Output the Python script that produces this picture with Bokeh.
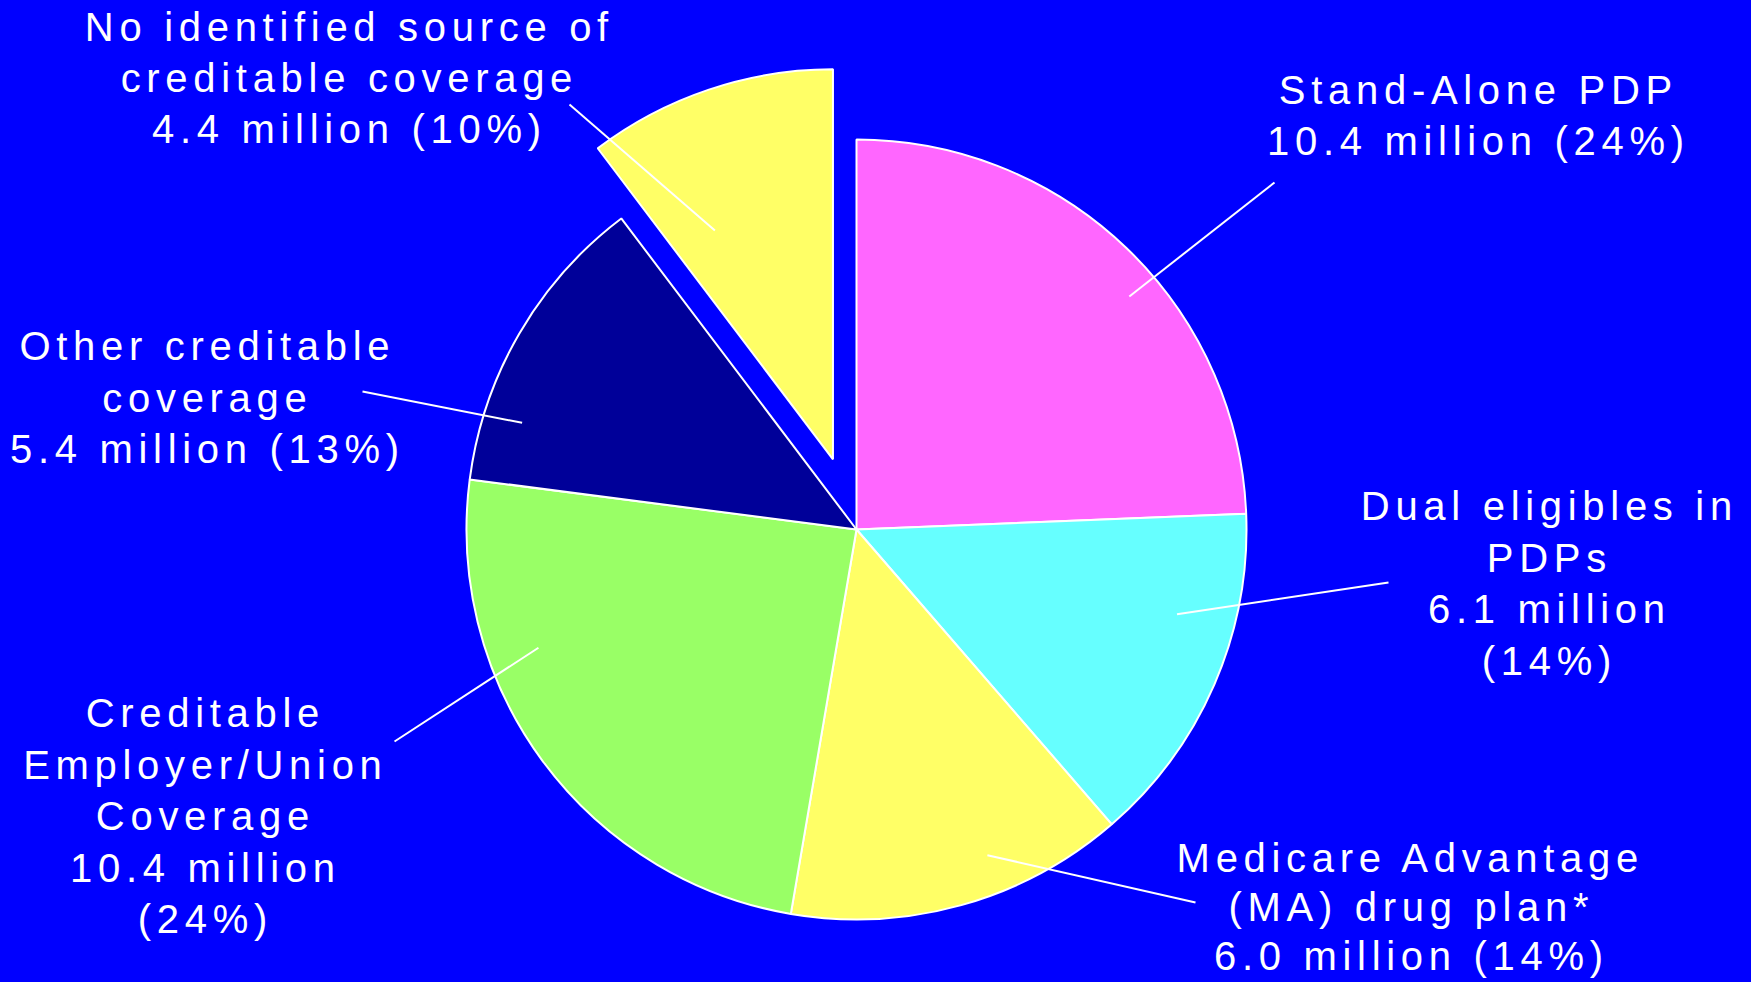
import math
from jinja2 import Template
from bokeh.plotting import figure
from bokeh.models import Range1d, ColumnDataSource
from bokeh.core.properties import value
from bokeh.embed import file_html
from bokeh.resources import INLINE
from bokeh.core.templates import FILE

# ---------------- data ----------------
categories = [
    "Stand-Alone PDP",
    "Dual eligibles in PDPs",
    "Medicare Advantage (MA) drug plan*",
    "Creditable Employer/Union Coverage",
    "Other creditable coverage",
    "No identified source of creditable coverage",
]
millions = [10.4, 6.1, 6.0, 10.4, 5.4, 4.4]
percents = [24, 14, 14, 24, 13, 10]
label_lines = [
    ["Stand-Alone PDP", "10.4 million (24%)"],
    ["Dual eligibles in", "PDPs", "6.1 million", "(14%)"],
    ["Medicare Advantage", "(MA) drug plan*", "6.0 million (14%)"],
    ["Creditable", "Employer/Union", "Coverage", "10.4 million", "(24%)"],
    ["Other creditable", "coverage", "5.4 million (13%)"],
    ["No identified source of", "creditable coverage", "4.4 million (10%)"],
]
exploded = [False, False, False, False, False, True]

# ---------------- styles / layout ----------------
slice_colors = ["#FF66FF", "#66FFFF", "#FFFF66", "#99FF66", "#000099", "#FFFF66"]
BG = "#0000FF"
W, H = 1751, 982
CX, CY_PAGE, R = 856, 529, 390
EXPLODE = 74
FONT = "Liberation Sans"
FONT_SIZE = "40px"
LETTER_SPACING = 5.7
BASELINE_FIX = -14.5   # renderer places this font's baseline lower; compensate
# label layout: center x (page px), first baseline (page px), line step
label_x = [1475, 1546, 1408, 202, 204, 346]
label_y0 = [104, 520, 872, 727, 360, 41]
label_step = [51, 51.5, 49, 51.5, 51.5, 51]
# leader lines: outer end in page px, inner end as (angle deg, fraction of radius)
leader_outer = [(1274, 182), (1388, 582), (1195, 902), (394, 741), (362, 391), (569, 104)]
leader_inner = [(40.5, 0.92), (-14.8, 0.85), (-68.1, 0.90), (200.4, 0.87), (162.3, 0.90), (117.3, 0.66)]


def py(y_page):
    return H - y_page


p = figure(width=W, height=H,
           x_range=Range1d(0, W), y_range=Range1d(0, H),
           x_axis_type=None, y_axis_type=None, toolbar_location=None,
           output_backend="svg", background_fill_color=BG, border_fill_color=BG,
           min_border=0, outline_line_color=None)

total = sum(millions)
cum = 0.0
xs, ys, starts, ends, cols = [], [], [], [], []
centers = []
for v, c, ex in zip(millions, slice_colors, exploded):
    a_end = math.pi / 2 - 2 * math.pi * cum / total
    cum += v
    a_start = math.pi / 2 - 2 * math.pi * cum / total
    cx, cy = CX, py(CY_PAGE)
    if ex:
        mid = (a_start + a_end) / 2
        cx += EXPLODE * math.cos(mid)
        cy += EXPLODE * math.sin(mid)
    centers.append((cx, cy))
    xs.append(cx); ys.append(cy); starts.append(a_start); ends.append(a_end); cols.append(c)

src = ColumnDataSource(dict(x=xs, y=ys, start=starts, end=ends, color=cols, name=categories,
                            value=millions, pct=percents))
p.wedge(x="x", y="y", radius=R, start_angle="start", end_angle="end", direction="anticlock",
        fill_color="color", line_color="white", line_width=2, source=src)

# leader lines
lx0, ly0, lx1, ly1 = [], [], [], []
for (ox, oy), (ang, fr), (cx, cy) in zip(leader_outer, leader_inner, centers):
    lx0.append(ox); ly0.append(py(oy))
    lx1.append(cx + fr * R * math.cos(math.radians(ang)))
    ly1.append(cy + fr * R * math.sin(math.radians(ang)))
p.segment(x0=lx0, y0=ly0, x1=lx1, y1=ly1, line_color="white", line_width=2)

# labels
tx, ty, tt = [], [], []
for lines, x0, y0, st in zip(label_lines, label_x, label_y0, label_step):
    for i, ln in enumerate(lines):
        tx.append(x0); ty.append(py(y0 + i * st + BASELINE_FIX)); tt.append(ln)
p.text(x=tx, y=ty, text=tt, text_align="center", text_baseline="alphabetic",
       text_font=value(FONT), text_font_size=FONT_SIZE, text_color="white")

preamble = """<style>html, body { background: #0000FF; }</style>
<script>
(function () {
  var LS = %s;
  function fix(root) {
    var els = root.querySelectorAll('*');
    for (var i = 0; i < els.length; i++) {
      var el = els[i];
      if (el.shadowRoot) fix(el.shadowRoot);
      if (el.tagName && el.tagName.toLowerCase() === 'text' && !el.hasAttribute('data-ls')) {
        var n = (el.textContent || '').length;
        var x = parseFloat(el.getAttribute('x') || '0');
        var anchor = el.getAttribute('text-anchor') || 'start';
        var shift = anchor === 'middle' ? LS / 2 : (anchor === 'end' ? LS : -n * LS / 2 + LS / 2);
        el.setAttribute('letter-spacing', LS + 'px');
        el.setAttribute('x', x + shift);
        el.setAttribute('data-ls', '1');
      }
    }
  }
  setInterval(function () { fix(document); }, 100);
})();
</script>""" % LETTER_SPACING

page_template = Template("{% extends base %}{% block preamble %}" + preamble + "{% endblock %}")
try:
    html = file_html(p, INLINE, title="Part D coverage", template=page_template,
                     template_variables={"base": FILE})
except Exception:
    html = file_html(p, INLINE, title="Part D coverage")
open("out.html", "w").write(html)
